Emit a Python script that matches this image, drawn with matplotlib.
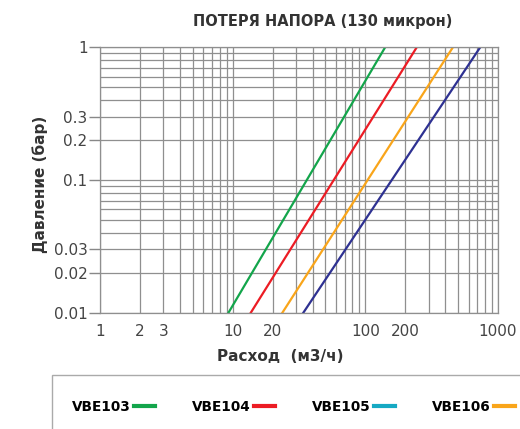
import numpy as np
import matplotlib.pyplot as plt
from matplotlib.lines import Line2D
from matplotlib.patches import Rectangle

# Pressure drop at the two ends of each straight line (log-log)
pressure = [0.01, 1.0]
flow_vbe103 = [9.3, 141]
flow_vbe104 = [13.7, 244]
flow_vbe106 = [23.7, 457]
flow_blue = [34.1, 734]

legend_labels = ['VBE103', 'VBE104', 'VBE105', 'VBE106']
legend_colors = ['#13a54b', '#ec1c24', '#16a9c3', '#f9a51a']

x_ticks = [1, 2, 3, 10, 20, 100, 200, 1000]
y_ticks = [0.01, 0.02, 0.03, 0.1, 0.2, 0.3, 1]

fig = plt.figure(figsize=(5.2, 4.29), dpi=100)
ax = fig.add_axes([0.1923, 0.2711, 0.7654, 0.6186])

ax.plot(flow_vbe103, pressure, color='#13a54b', lw=1.6)
ax.plot(flow_vbe104, pressure, color='#ec1c24', lw=1.6)
ax.plot(flow_vbe106, pressure, color='#f9a51a', lw=1.6)
ax.plot(flow_blue, pressure, color='#2e3192', lw=1.6)

ax.set_xscale('log')
ax.set_yscale('log')
ax.set_xlim(1, 1000)
ax.set_ylim(0.01, 1)

ax.set_xticks(x_ticks)
ax.set_xticklabels([str(v) for v in x_ticks])
ax.set_yticks(y_ticks)
ax.set_yticklabels([f'{v:g}' for v in y_ticks])
ax.xaxis.set_minor_formatter(plt.NullFormatter())
ax.yaxis.set_minor_formatter(plt.NullFormatter())
ax.tick_params(axis='x', which='both', length=0, pad=8, labelsize=11, labelcolor='#444444')
ax.tick_params(axis='y', which='major', length=8, width=1, color='#888888',
               pad=1, labelsize=11, labelcolor='#444444')
ax.tick_params(axis='y', which='minor', length=0)

ax.grid(True, which='both', color='#8f8f8f', lw=0.9)
ax.set_axisbelow(True)
for s in ax.spines.values():
    s.set_color('#8f8f8f')
    s.set_linewidth(0.9)

fig.text(0.621, 0.951, 'ПОТЕРЯ НАПОРА (130 микрон)', ha='center', va='center',
         fontsize=10.5, fontweight='bold', color='#333333')
fig.text(0.538, 0.168, 'Расход  (м3/ч)', ha='center', va='center',
         fontsize=11, fontweight='bold', color='#333333')
fig.text(0.077, 0.571, 'Давление (бар)', ha='center', va='center', rotation=90,
         fontsize=11, fontweight='bold', color='#333333')

# legend box running off the right and bottom edges
fig.patches.append(Rectangle((0.1, -0.1), 1.0, 0.225, transform=fig.transFigure,
                             fill=False, edgecolor='#aaaaaa', lw=1))
handles = [Line2D([], [], color=c, lw=3) for c in legend_colors]
fig.legend(handles, legend_labels, loc='center left', bbox_to_anchor=(0.115, 0.051),
           ncol=4, frameon=False, markerfirst=False, handlelength=1.5,
           handletextpad=0.25, columnspacing=2.75,
           prop={'weight': 'bold', 'size': 9.8})

fig.savefig('out.png', dpi=100)
